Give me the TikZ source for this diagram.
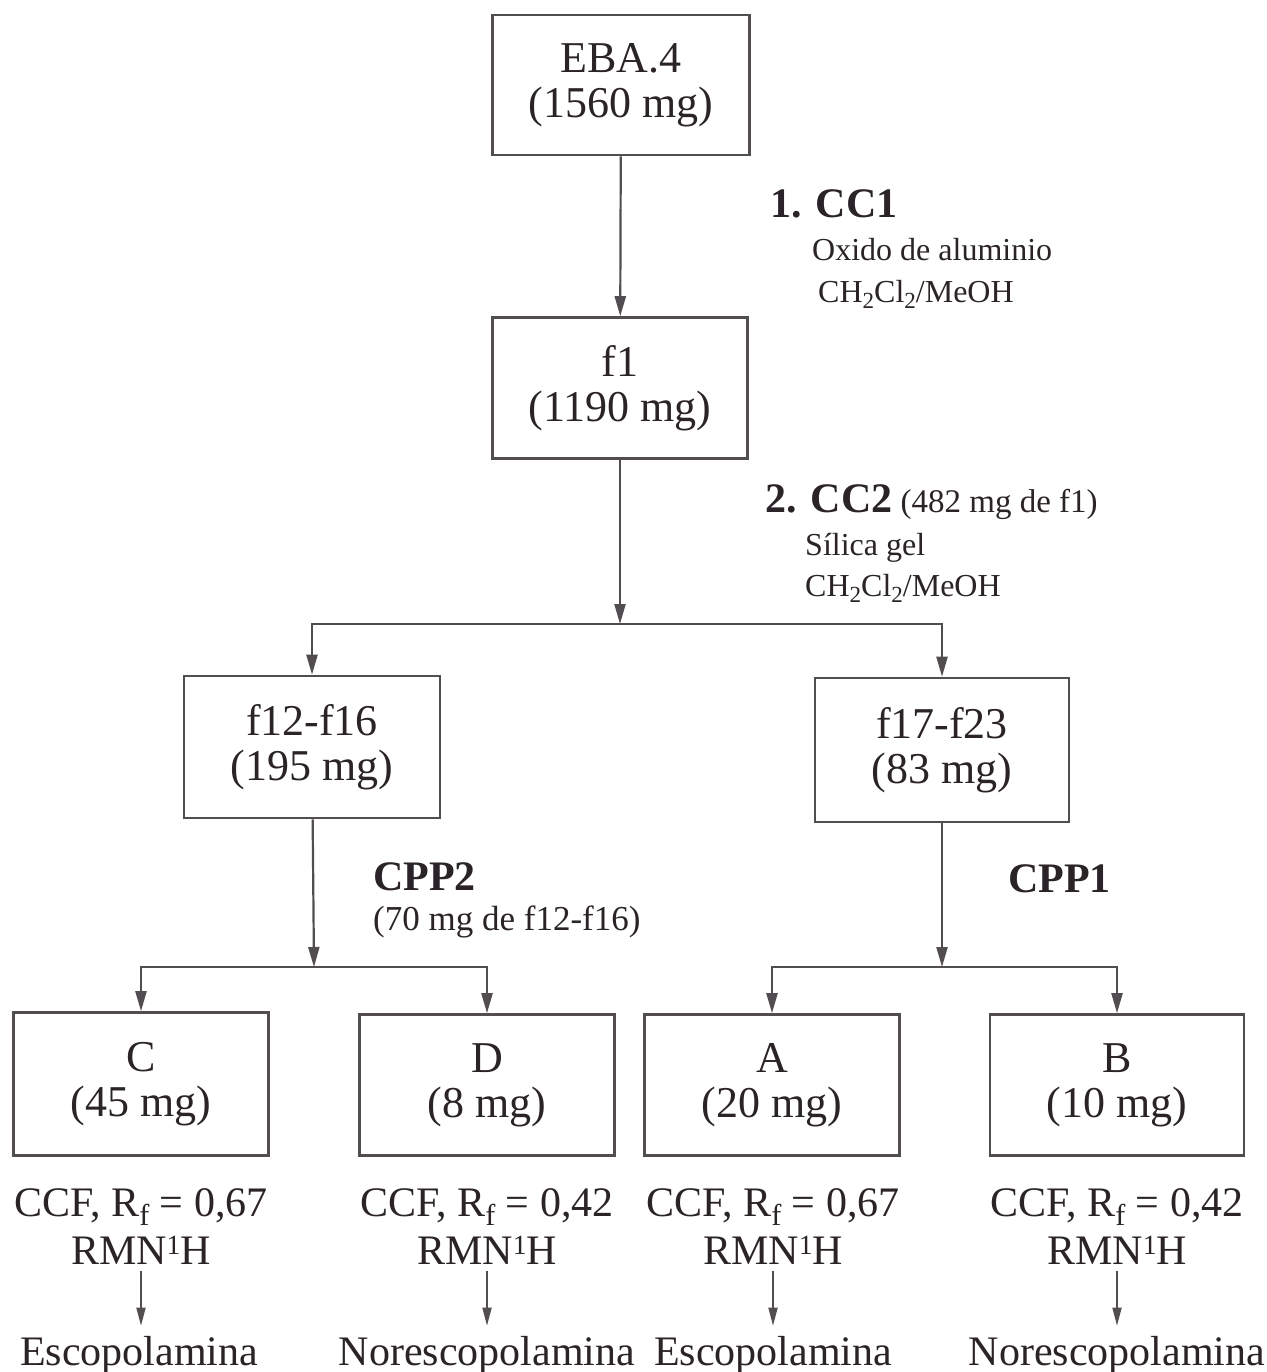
\documentclass[tikz,border=0pt]{standalone}
\usepackage{fontspec}
\usepackage{graphicx}
\setmainfont{Liberation Serif}
\usetikzlibrary{arrows.meta}
\definecolor{ink}{HTML}{2A2327}
\definecolor{lin}{HTML}{524D50}
\newcommand\mysub[1]{\raisebox{-0.2em}{\scalebox{0.72}{#1}}}
\newcommand\mysup[1]{\raisebox{0.26em}{\scalebox{0.66}{#1}}}
\begin{document}
\begin{tikzpicture}[x=1pt,y=-1pt,
  box/.style={draw=lin,line width=2.6pt,minimum width=255pt,minimum height=141pt,inner sep=0pt,align=center,text=ink,font=\fontsize{44}{45}\selectfont},
  arr/.style={draw=lin,line width=2.2pt,-{Triangle[length=20pt,width=11pt]}},
  arrs/.style={draw=lin,line width=1.8pt,-{Triangle[length=18pt,width=9pt]},shorten >=10pt,shorten <=6pt},
  info/.style={inner sep=0pt,align=center,text=ink,font=\fontsize{42}{48}\selectfont},
  prod/.style={inner sep=0pt,anchor=base,text=ink,font=\fontsize{42}{42}\selectfont},
  lab/.style={anchor=base west,inner sep=0pt,text=ink},
  bl/.style={font=\fontsize{42}{42}\selectfont\bfseries},
  sl/.style={font=\fontsize{32}{32}\selectfont},
]
\useasboundingbox[fill=white] (0,0) rectangle (1266,1372);

% boxes
\node[box,minimum width=257pt,minimum height=140pt] (eba) at (621,85) {EBA.4\\(1560 mg)};
\node[box] (f1) at (620,388) {f1\\(1190 mg)};
\node[box,minimum width=256pt,minimum height=142pt] (f12) at (312,747) {f12-f16\\(195 mg)};
\node[box,minimum width=254pt,minimum height=144pt] (f17) at (942,750) {f17-f23\\(83 mg)};
\node[box,minimum height=143pt] (c) at (141,1084) {C\\(45 mg)};
\node[box] (d) at (487,1085) {D\\(8 mg)};
\node[box] (a) at (772,1085) {A\\(20 mg)};
\node[box,minimum width=254pt] (b) at (1117,1085) {B\\(10 mg)};

% split points
\coordinate (s1) at (620,624);
\coordinate (s2) at (314,967);
\coordinate (s3) at (942,967);

% connectors
\draw[arr] (eba) -- (f1);
\draw[arr] (f1) -- (s1);
\draw[arr] (s1) -| (f12);
\draw[arr] (s1) -| (f17);
\draw[arr] (f12) -- (s2);
\draw[arr] (s2) -| (c);
\draw[arr] (s2) -| (d);
\draw[arr] (f17) -- (s3);
\draw[arr] (s3) -| (a);
\draw[arr] (s3) -| (b);

% step labels
\node[lab,bl] (l1) at (770,218) {1. CC1};
\node[lab,sl] (l1a) at (812,260) {Oxido de aluminio};
\node[lab,sl] (l1b) at (818,302) {CH\mysub{2}Cl\mysub{2}/MeOH};
\node[lab,font=\fontsize{33}{33}\selectfont] (l2) at (765,512) {{\fontsize{42}{42}\selectfont\bfseries 2. CC2}\ (482 mg de f1)};
\node[lab,sl] (l2a) at (805,555) {Sílica gel};
\node[lab,sl] (l2b) at (805,596) {CH\mysub{2}Cl\mysub{2}/MeOH};
\node[lab,bl] (l3) at (373,890) {CPP2};
\node[lab,font=\fontsize{35}{35}\selectfont] (l3a) at (373,930) {(70 mg de f12-f16)};
\node[lab,bl] (l4) at (1008,892) {CPP1};

% analyses
\node[info] (ic) at (141,1227) {CCF, R\mysub{f} = 0,67\\RMN\mysup{1}H};
\node[info] (id) at (487,1227) {CCF, R\mysub{f} = 0,42\\RMN\mysup{1}H};
\node[info] (ia) at (773,1227) {CCF, R\mysub{f} = 0,67\\RMN\mysup{1}H};
\node[info] (ib) at (1117,1227) {CCF, R\mysub{f} = 0,42\\RMN\mysup{1}H};

\node[prod] (pc) at (139,1365) {Escopolamina};
\node[prod] (pd) at (487,1365) {Norescopolamina};
\node[prod] (pa) at (773,1365) {Escopolamina};
\node[prod] (pb) at (1117,1365) {Norescopolamina};

\draw[arrs] (ic) -- (ic |- pc.north);
\draw[arrs] (id) -- (id |- pd.north);
\draw[arrs] (ia) -- (ia |- pa.north);
\draw[arrs] (ib) -- (ib |- pb.north);
\end{tikzpicture}
\end{document}
